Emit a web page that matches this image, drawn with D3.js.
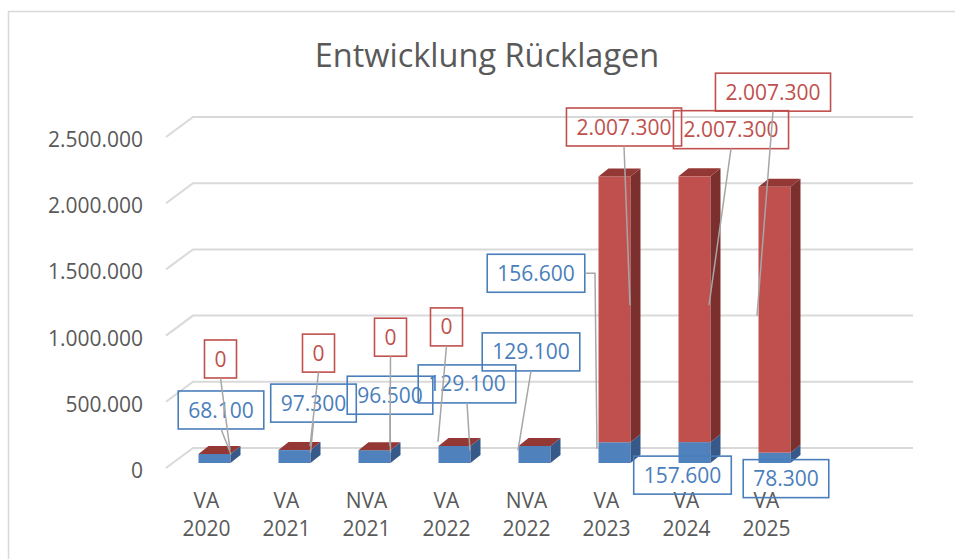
<!DOCTYPE html>
<html>
<head>
<meta charset="utf-8">
<script src="https://cdn.jsdelivr.net/npm/d3@7"></script>
<style>
  body { margin: 0; background: #fff; }
  svg { display: block; font-family: "Open Sans", sans-serif; }
</style>
</head>
<body>
<div id="chart"></div>
<script>
// data
const categories = ["VA 2020", "VA 2021", "NVA 2021", "VA 2022", "NVA 2022", "VA 2023", "VA 2024", "VA 2025"];
const blueValues = [68100, 97300, 96500, 129100, 129100, 156600, 157600, 78300];
const redValues = [0, 0, 0, 0, 0, 2007300, 2007300, 2007300];
const yTicks = [0, 500000, 1000000, 1500000, 2000000, 2500000];
const title = "Entwicklung Rücklagen";

// label placement (dx, dy of box centre from segment top, leader x offset, show line)
const blueLabelPos = [
  [6.5, -44, 16.5, true], [19, -47, 16, true], [15.5, -55, 16, true], [12.5, -62, 15.5, true],
  [-3.5, -94, -16.5, true], [-78.5, -169, -17.5, true], [-12, 33, 0, false], [11.5, 26, 0, false]
];
const redLabelPos = [
  [6, -95, 15.5, true], [24, -97, 15.5, true], [16, -113, 15.5, true], [-8, -119, -16.5, true],
  null, [9.5, -49.5, 15.5, true], [36.5, -46.7, 14.5, true], [-1.5, -94.7, -17.5, true]
];

const width = 955;
const height = 559;
const depthWall = { dx: 27, dy: -20 };
const barDepth = { dx: 10, dy: -8 };
const barW = 32;

const de = d3.formatLocale({ decimal: ",", thousands: ".", grouping: [3], currency: ["", "€"] });
const fmt = de.format(",.0f");

const svg = d3.select("#chart").append("svg")
  .attr("width", width).attr("height", height);

// outer border
svg.append("rect")
  .attr("x", 8.5).attr("y", 11.5).attr("width", 1000).attr("height", 1000)
  .attr("fill", "none").attr("stroke", "#d9d9d9").attr("stroke-width", 1.5);

svg.append("text")
  .attr("x", 487).attr("y", 67)
  .attr("text-anchor", "middle")
  .attr("fill", "#595959")
  .style("font-size", "32.5px")
  .text(title);

// back wall scale and bar scale
const yBack = d3.scaleLinear().domain([0, 2500000]).range([448, 117]);
const yBar = d3.scaleLinear().domain([0, 2500000]).range([463, 132]);
const x = d3.scaleBand().domain(categories).range([174.5, 814.5]);

// gridlines
const grid = svg.append("g");
yTicks.forEach((t) => {
  const yb = yBack(t);
  grid.append("path")
    .attr("d", `M${193 - depthWall.dx},${yb - depthWall.dy} L193,${yb} L913,${yb}`)
    .attr("fill", "none").attr("stroke", "#d9d9d9").attr("stroke-width", 2);
  grid.append("text")
    .attr("x", 143).attr("y", yb - depthWall.dy + 10)
    .attr("text-anchor", "end")
    .attr("fill", "#595959")
    .style("font-size", "21px")
    .text(fmt(t));
});

// category labels
categories.forEach((c) => {
  const cx = x(c) + x.bandwidth() / 2 - 8;
  const parts = c.split(" ");
  const t = svg.append("text")
    .attr("text-anchor", "middle")
    .attr("fill", "#595959")
    .style("font-size", "21px");
  parts.forEach((p, i) => {
    t.append("tspan").attr("x", cx).attr("y", 508 + i * 28).text(p);
  });
});

// bars
function box3d(g, cx, y0, y1, cols, showTop) {
  const l = cx - barW / 2, r = cx + barW / 2;
  g.append("rect").attr("x", l).attr("y", y1).attr("width", barW).attr("height", Math.max(0, y0 - y1))
    .attr("fill", cols.front);
  g.append("path")
    .attr("d", `M${r},${y0} L${r + barDepth.dx},${y0 + barDepth.dy} L${r + barDepth.dx},${y1 + barDepth.dy} L${r},${y1} Z`)
    .attr("fill", cols.side);
  if (showTop) {
    g.append("path")
      .attr("d", `M${l},${y1} L${l + barDepth.dx},${y1 + barDepth.dy} L${r + barDepth.dx},${y1 + barDepth.dy} L${r},${y1} Z`)
      .attr("fill", cols.top);
  }
}
const blueCols = { front: "#4f81bd", side: "#36598a", top: "#3f6aa0" };
const redCols = { front: "#c0504d", side: "#7c302e", top: "#943836" };

const bars = svg.append("g");
categories.forEach((c, i) => {
  const cx = x(c) + x.bandwidth() / 2;
  const g = bars.append("g");
  box3d(g, cx, yBar(0), yBar(blueValues[i]), blueCols, false);
  box3d(g, cx, yBar(blueValues[i]), yBar(blueValues[i] + redValues[i]), redCols, true);
});

// data labels
const labelLayer = svg.append("g");
function addLabel(cx, yTop, yBottom, value, pos, colour) {
  if (!pos) return;
  const [dx, dy, tx, line] = pos;
  const bx = cx + dx, by = yTop + dy;
  const t = labelLayer.append("text")
    .attr("x", bx).attr("y", by).attr("dy", "0.36em")
    .attr("text-anchor", "middle")
    .attr("fill", colour)
    .style("font-size", "21px")
    .text(fmt(value));
  const w = t.node().getComputedTextLength() + 20;
  const h = 38;
  labelLayer.append("rect")
    .attr("x", bx - w / 2).attr("y", by - h / 2).attr("width", w).attr("height", h)
    .attr("fill", "none").attr("stroke", colour).attr("stroke-width", 1.6);
  if (!line) return;
  const tgx = cx + tx;
  const tgy = (yTop + yBottom) / 2 - 4;
  let d;
  if (tgx > bx + w / 2) {
    d = `M${bx + w / 2},${by} L${tgx - 2},${by} L${tgx},${tgy}`;
  } else {
    d = `M${bx},${by + h / 2} L${tgx},${tgy}`;
  }
  labelLayer.append("path").attr("d", d)
    .attr("fill", "none").attr("stroke", "#a6a6a6").attr("stroke-width", 1.5);
}
categories.forEach((c, i) => {
  const cx = x(c) + x.bandwidth() / 2;
  const b = blueValues[i], r = redValues[i];
  addLabel(cx, yBar(b), yBar(0), b, blueLabelPos[i], "#4a7ebb");
  addLabel(cx, yBar(b + r), yBar(b), r, redLabelPos[i], "#c0504d");
});
</script>
</body>
</html>
